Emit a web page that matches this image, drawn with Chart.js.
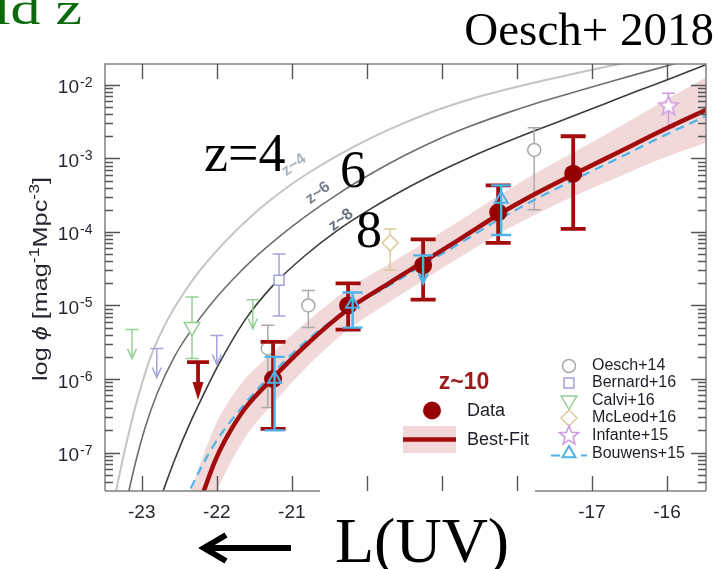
<!DOCTYPE html>
<html>
<head>
<meta charset="utf-8">
<script src="https://cdn.jsdelivr.net/npm/chart.js@4.4.1/dist/chart.umd.min.js"></script>
<style>
  html, body { margin: 0; padding: 0; background: #fff; }
  canvas { display: block; }
</style>
</head>
<body>
<canvas id="lf" width="721" height="569"></canvas>
<script>
// UV luminosity function at z~10 against the z~4, 6, 8 Schechter curves

// axis ranges (absolute UV magnitude, number density)
const X_MIN = -23.49, X_MAX = -15.48;
const Y_MIN = 3.27e-8, Y_MAX = 1.92e-2;
const xTicks = [-23, -22, -21, -20, -19, -18, -17, -16];
const xTickLabels = ['-23', '-22', '-21', '', '', '', '-17', '-16'];
const yTickExps = [-2, -3, -4, -5, -6, -7];

// lower redshift reference curves
const z4Mag = [-23.347, -23.213, -23.053, -22.867, -22.653, -22.427, -22.227, -21.893, -21.493, -21.133, -20.827, -20.387, -19.933, -19.493, -19.053, -18.6, -18.16, -17.493, -16.827, -16.16];
const z4Phi = [2.88e-8, 1.24e-7, 5.53e-7, 2.18e-6, 6.47e-6, 1.55e-5, 2.97e-5, 7.33e-5, 1.81e-4, 3.58e-4, 5.89e-4, 1.10e-3, 1.92e-3, 3.06e-3, 4.59e-3, 6.47e-3, 8.56e-3, 1.24e-2, 1.75e-2, 2.39e-2];
const z6Mag = [-23.2, -23.093, -22.96, -22.787, -22.56, -22.333, -22.093, -21.8, -21.493, -21.187, -20.827, -20.387, -19.933, -19.493, -19.053, -18.6, -18.16, -17.72, -17.267, -16.827, -16.387, -15.933, -15.56];
const z6Phi = [2.24e-8, 6.67e-8, 2.11e-7, 6.67e-7, 2.05e-6, 4.74e-6, 1.0e-5, 2.18e-5, 4.46e-5, 8.3e-5, 1.60e-4, 3.27e-4, 6.27e-4, 1.10e-3, 1.81e-3, 2.79e-3, 4.06e-3, 5.71e-3, 7.8e-3, 1.05e-2, 1.41e-2, 1.89e-2, 2.39e-2];
const z8Mag = [-22.733, -22.56, -22.36, -22.16, -21.987, -21.627, -21.253, -20.827, -20.387, -19.933, -19.493, -19.053, -18.6, -18.16, -17.72, -17.267, -16.827, -16.387, -15.933, -15.56, -15.293];
const z8Phi = [2.7e-8, 8.03e-8, 2.47e-7, 6.67e-7, 1.5e-6, 6.27e-6, 1.86e-5, 4.74e-5, 1.06e-4, 2.11e-4, 3.81e-4, 6.47e-4, 1.06e-3, 1.64e-3, 2.47e-3, 3.70e-3, 5.53e-3, 8.3e-3, 1.24e-2, 1.75e-2, 2.24e-2];

// z~10 best fit and its uncertainty band
const fitMag = [-22.40, -22.227, -22.16, -22.027, -21.893, -21.627, -21.253, -20.827, -20.253, -19.693, -19.267, -18.76, -18.253, -17.76, -17.24, -16.627, -16.093, -15.467, -15.227];
const fitPhi = [5.4e-9, 2.05e-8, 3.27e-8, 7.55e-8, 1.45e-7, 3.94e-7, 1.03e-6, 2.79e-6, 8.8e-6, 2.05e-5, 3.81e-5, 8.0e-5, 1.70e-4, 3.27e-4, 6.1e-4, 1.24e-3, 2.32e-3, 4.6e-3, 5.9e-3];
const fitUpper = [1.9e-8, 6.8e-8, 1.03e-7, 2.28e-7, 4.09e-7, 9.9e-7, 2.31e-6, 5.7e-6, 1.68e-5, 3.72e-5, 6.8e-5, 1.43e-4, 3.09e-4, 6.2e-4, 1.21e-3, 2.72e-3, 5.6e-3, 1.29e-2, 1.78e-2];
const fitLower = [1.5e-9, 6.2e-9, 1.03e-8, 2.5e-8, 5.15e-8, 1.57e-7, 4.61e-7, 1.37e-6, 4.63e-6, 1.12e-5, 2.14e-5, 4.52e-5, 9.3e-5, 1.71e-4, 3.05e-4, 5.7e-4, 9.7e-4, 1.63e-3, 1.95e-3];

// Bouwens+15 dashed function
const bwMag = [-22.427, -22.347, -22.027, -21.627, -21.267, -20.827, -20.253, -19.693, -19.267, -18.76, -18.253, -17.76, -17.24, -16.627, -16.093, -15.467, -15.227];
const bwPhi = [2.11e-8, 3.27e-8, 1.32e-7, 4.59e-7, 1.17e-6, 3.16e-6, 8.8e-6, 1.89e-5, 3.47e-5, 7.0e-5, 1.45e-4, 2.75e-4, 5.1e-4, 1.03e-3, 1.92e-3, 3.81e-3, 4.89e-3];

// z~10 data
const z10Mag = [-21.25, -20.25, -19.25, -18.25, -17.25];
const z10Phi = [1.0e-6, 1.0e-5, 3.5e-5, 1.85e-4, 6.2e-4];
const z10Hi = [3.2e-6, 2.0e-5, 7.9e-5, 4.3e-4, 2.0e-3];
const z10Lo = [2.1e-7, 4.7e-6, 1.2e-5, 7.1e-5, 1.1e-4];
const z10LimMag = [-22.25];
const z10LimPhi = [1.7e-6];

// literature points
const oeschMag = [-21.32, -20.78, -17.77];
const oeschPhi = [2.6e-6, 1.0e-5, 1.3e-3];
const oeschHi = [5.4e-6, 1.6e-5, 2.6e-3];
const oeschLo = [4.1e-7, 5.0e-6, 2.0e-4];
const bernardMag = [-21.17];
const bernardPhi = [2.2e-5];
const bernardHi = [5.0e-5];
const bernardLo = [7.2e-6];
const bernardLimMag = [-22.8, -22.0];
const bernardLimPhi = [2.6e-6, 3.9e-6];
const calviMag = [-22.33];
const calviPhi = [5.1e-6];
const calviHi = [1.3e-5];
const calviLo = [1.9e-6];
const calviLimMag = [-23.13, -21.52];
const calviLimPhi = [4.7e-6, 1.2e-5];
const mcleodMag = [-19.69];
const mcleodPhi = [7.1e-5];
const mcleodHi = [1.1e-4];
const mcleodLo = [3.0e-5];
const infanteMag = [-15.98];
const infantePhi = [5.25e-3];
const infanteHi = [7.7e-3];
const infanteLo = [2.6e-3];
const bouwensMag = [-21.23, -20.19, -18.21];
const bouwensPhi = [1.0e-6, 1.05e-5, 2.8e-4];
const bouwensHi = [2.0e-6, 1.5e-5, 4.3e-4];
const bouwensLo = [2.0e-7, 5.0e-6, 9.1e-5];
const bouwensLimMag = [-19.25];
const bouwensLimPhi = [4.8e-5];

const SANS = '"Liberation Sans", Arial, Helvetica, sans-serif';
const SERIF = '"Liberation Serif", "Times New Roman", serif';

const C_OESCH = '#a9a9a9';
const C_BERNARD = '#a3a3d9';
const C_CALVI = '#96d096';
const C_MCLEOD = '#dccb9c';
const C_INFANTE = '#cf9ae0';
const C_BOUWENS = '#4db3e8';
const C_RED = '#a30c0c';
const C_DOT = '#960000';

function pts(xs, ys) {
  return xs.map((x, i) => ({ x, y: ys[i] }));
}

function makeStar(color) {
  const c = document.createElement('canvas');
  c.width = 24; c.height = 24;
  const g = c.getContext('2d');
  g.strokeStyle = color; g.lineWidth = 1.6; g.fillStyle = '#fff';
  g.beginPath();
  for (let k = 0; k < 10; k++) {
    const r = k % 2 ? 4.3 : 10;
    const a = -Math.PI / 2 + k * Math.PI / 5;
    const px = 12 + r * Math.cos(a), py = 12.8 + r * Math.sin(a);
    if (k) g.lineTo(px, py); else g.moveTo(px, py);
  }
  g.closePath(); g.fill(); g.stroke();
  return c;
}
const starImg = makeStar(C_INFANTE);

function curve(label, xs, ys, color, width, order, extra) {
  return Object.assign({
    label, data: pts(xs, ys), borderColor: color, borderWidth: width,
    pointRadius: 0, fill: false, cubicInterpolationMode: 'monotone', clip: 0, order
  }, extra || {});
}

function markers(label, xs, ys, style, color, order, extra) {
  return Object.assign({
    label, data: pts(xs, ys), showLine: false, pointStyle: style,
    pointBorderColor: color, pointBackgroundColor: '#fff', pointBorderWidth: 1.5,
    pointRadius: 7, borderColor: color, order
  }, extra || {});
}

function limits(label, xs, ys, color, order, bar) {
  return { label, data: pts(xs, ys), showLine: false, pointRadius: 0, borderColor: color, order, bar, limit: true };
}

const thinBar = c => ({ color: c, width: 1.5, cap: 13, arrow: 29, head: 'open' });

const datasets = [
  curve('band', fitMag, fitUpper, 'rgba(0,0,0,0)', 0, 30, { fill: '+1', backgroundColor: 'rgba(205,105,105,0.25)' }),
  curve('bandLow', fitMag, fitLower, 'rgba(0,0,0,0)', 0, 30),
  curve('z~4', z4Mag, z4Phi, '#c4c4c4', 2, 25),
  curve('z~6', z6Mag, z6Phi, '#6e6e6e', 1.6, 25),
  curve('z~8', z8Mag, z8Phi, '#3c3c3c', 1.6, 25),
  markers('Oesch+14', oeschMag, oeschPhi, 'circle', C_OESCH, 20, { pointRadius: 6.5, errHigh: oeschHi, errLow: oeschLo, bar: thinBar(C_OESCH) }),
  markers('Bernard+16', bernardMag, bernardPhi, 'rect', C_BERNARD, 20, { pointRadius: 7, errHigh: bernardHi, errLow: bernardLo, bar: thinBar(C_BERNARD) }),
  limits('Bernard+16 lim', bernardLimMag, bernardLimPhi, C_BERNARD, 20, thinBar(C_BERNARD)),
  markers('Calvi+16', calviMag, calviPhi, 'triangle', C_CALVI, 20, { pointRadius: 9, pointRotation: 180, errHigh: calviHi, errLow: calviLo, bar: thinBar(C_CALVI) }),
  limits('Calvi+16 lim', calviLimMag, calviLimPhi, C_CALVI, 20, thinBar(C_CALVI)),
  markers('McLeod+16', mcleodMag, mcleodPhi, 'rectRot', C_MCLEOD, 20, { pointRadius: 8, errHigh: mcleodHi, errLow: mcleodLo, bar: thinBar(C_MCLEOD) }),
  markers('Infante+15', infanteMag, infantePhi, starImg, C_INFANTE, 20, { errHigh: infanteHi, errLow: infanteLo, bar: thinBar(C_INFANTE) }),
  curve('Bouwens+15 fit', bwMag, bwPhi, C_BOUWENS, 2.2, 15, { borderDash: [9, 6] }),
  curve('Best-Fit', fitMag, fitPhi, C_RED, 4.5, 12),
  markers('Data', z10Mag, z10Phi, 'circle', C_DOT, 8, {
    pointRadius: 9, pointBackgroundColor: C_DOT, pointBorderWidth: 0,
    errHigh: z10Hi, errLow: z10Lo, bar: { color: C_RED, width: 3.8, cap: 25 }
  }),
  limits('Data lim', z10LimMag, z10LimPhi, C_RED, 8, { color: C_RED, width: 3.8, cap: 22, arrow: 38, head: 'solid' }),
  markers('Bouwens+15', bouwensMag, bouwensPhi, 'triangle', C_BOUWENS, 4, {
    pointRadius: 7.5, pointBorderWidth: 2, pointBackgroundColor: 'rgba(0,0,0,0)',
    errHigh: bouwensHi, errLow: bouwensLo, bar: { color: C_BOUWENS, width: 2.4, cap: 20 }
  }),
  limits('Bouwens+15 lim', bouwensLimMag, bouwensLimPhi, C_BOUWENS, 4, { color: C_BOUWENS, width: 2.4, cap: 20, arrow: 28, head: 'open' })
];

// vertical error bars and upper-limit arrows, drawn under each dataset's markers
const errorBars = {
  id: 'errorBars',
  beforeDatasetDraw(chart, args) {
    const ds = chart.data.datasets[args.index];
    const bar = ds.bar;
    if (!bar) return;
    const { ctx } = chart;
    const xs = chart.scales.x, ys = chart.scales.y;
    ctx.save();
    ctx.strokeStyle = bar.color;
    ctx.fillStyle = bar.color;
    ctx.lineWidth = bar.width;
    ctx.lineCap = 'butt';
    const half = bar.cap / 2;
    ds.data.forEach((p, i) => {
      const px = xs.getPixelForValue(p.x);
      if (ds.limit) {
        const top = ys.getPixelForValue(p.y);
        const tip = top + bar.arrow;
        ctx.beginPath();
        ctx.moveTo(px - half, top); ctx.lineTo(px + half, top);
        ctx.moveTo(px, top);
        ctx.lineTo(px, bar.head === 'solid' ? tip - 14 : tip - 1);
        ctx.stroke();
        ctx.beginPath();
        if (bar.head === 'solid') {
          ctx.moveTo(px - 5.5, tip - 18); ctx.lineTo(px + 5.5, tip - 18); ctx.lineTo(px, tip);
          ctx.closePath(); ctx.fill();
        } else {
          ctx.moveTo(px - 4.5, tip - 10); ctx.lineTo(px, tip); ctx.lineTo(px + 4.5, tip - 10);
          ctx.stroke();
        }
      } else {
        const hi = ys.getPixelForValue(ds.errHigh[i]);
        const lo = ys.getPixelForValue(ds.errLow[i]);
        ctx.beginPath();
        ctx.moveTo(px, hi); ctx.lineTo(px, lo);
        ctx.moveTo(px - half, hi); ctx.lineTo(px + half, hi);
        ctx.moveTo(px - half, lo); ctx.lineTo(px + half, lo);
        ctx.stroke();
      }
    });
    ctx.restore();
  }
};

function richWidth(ctx, parts) {
  let w = 0;
  for (const p of parts) { ctx.font = p.font; w += ctx.measureText(p.t).width; }
  return w;
}
function drawRich(ctx, parts, x, y) {
  let cx = x;
  for (const p of parts) {
    ctx.font = p.font;
    ctx.fillText(p.t, cx, y + (p.dy || 0));
    cx += ctx.measureText(p.t).width;
  }
}

function legendMarker(ctx, style, color, x, y, radius, rotation, fill, width) {
  ctx.save();
  ctx.strokeStyle = color;
  ctx.fillStyle = fill || '#fff';
  ctx.lineWidth = width || 1.5;
  Chart.helpers.drawPoint(ctx, { pointStyle: style, radius, rotation: rotation || 0, borderWidth: width || 1.5 }, x, y);
  ctx.restore();
}

// frame, inward ticks, labels, legends and annotations
const decor = {
  id: 'decor',
  afterDraw(chart) {
    const { ctx, chartArea: a } = chart;
    const xs = chart.scales.x, ys = chart.scales.y;
    ctx.save();

    // frame, with the stretch of bottom axis under the legend left open
    ctx.strokeStyle = '#808080';
    ctx.lineWidth = 1.5;
    ctx.beginPath();
    ctx.moveTo(a.left, a.bottom); ctx.lineTo(a.left, a.top);
    ctx.lineTo(a.right, a.top); ctx.lineTo(a.right, a.bottom);
    ctx.moveTo(a.left, a.bottom); ctx.lineTo(320, a.bottom);
    ctx.moveTo(535, a.bottom); ctx.lineTo(a.right, a.bottom);
    ctx.stroke();

    ctx.strokeStyle = '#555';
    ctx.lineWidth = 1.4;
    ctx.beginPath();
    xTicks.forEach(t => {
      const px = Math.round(xs.getPixelForValue(t)) + 0.5;
      ctx.moveTo(px, a.top); ctx.lineTo(px, a.top + 15);
      ctx.moveTo(px, a.bottom); ctx.lineTo(px, a.bottom - 15);
    });
    for (let e = -8; e <= -2; e++) {
      for (let m = 1; m <= 9; m++) {
        const v = m * Math.pow(10, e);
        if (v < Y_MIN || v > Y_MAX) continue;
        const py = Math.round(ys.getPixelForValue(v)) + 0.5;
        const len = m === 1 ? 15 : 8;
        ctx.moveTo(a.left, py); ctx.lineTo(a.left + len, py);
        ctx.moveTo(a.right, py); ctx.lineTo(a.right - len, py);
      }
    }
    ctx.stroke();

    // tick labels
    ctx.fillStyle = '#262633';
    ctx.textBaseline = 'alphabetic';
    yTickExps.forEach(e => {
      const py = ys.getPixelForValue(Math.pow(10, e));
      ctx.font = '19px ' + SANS;
      ctx.textAlign = 'right';
      ctx.fillText('10', 79, py + 8.5);
      ctx.font = '14px ' + SANS;
      ctx.textAlign = 'left';
      ctx.fillText(String(e), 80, py + 2);
    });
    ctx.font = '19px ' + SANS;
    ctx.textAlign = 'center';
    xTicks.forEach((t, i) => {
      if (xTickLabels[i]) ctx.fillText(xTickLabels[i], xs.getPixelForValue(t), 518);
    });

    // y axis title
    const title = [
      { t: 'log ', font: '20px ' + SANS },
      { t: 'ϕ', font: 'italic 20px ' + SANS },
      { t: ' [mag', font: '20px ' + SANS },
      { t: '-1', font: '14px ' + SANS, dy: -8 },
      { t: 'Mpc', font: '20px ' + SANS },
      { t: '-3', font: '14px ' + SANS, dy: -8 },
      { t: ']', font: '20px ' + SANS }
    ];
    ctx.save();
    ctx.translate(47, 279);
    ctx.rotate(-Math.PI / 2);
    const tw = richWidth(ctx, title);
    ctx.scale(204 / tw, 1);
    ctx.textAlign = 'left';
    drawRich(ctx, title, -tw / 2, 0);
    ctx.restore();

    // labels along the reference curves
    ctx.font = 'bold 16px ' + SANS;
    ctx.textAlign = 'center';
    ctx.textBaseline = 'middle';
    [['z~4', 294, 165, '#aab3c2'], ['z~6', 318, 193, '#78808f'], ['z~8', 341, 220, '#69717f']].forEach(([t, x, y, c]) => {
      ctx.save();
      ctx.translate(x, y);
      ctx.rotate(-0.66);
      ctx.fillStyle = c;
      ctx.fillText(t, 0, 0);
      ctx.restore();
    });

    // z~10 legend
    ctx.textAlign = 'center';
    ctx.textBaseline = 'alphabetic';
    ctx.fillStyle = '#9b1b1b';
    ctx.font = 'bold 23px ' + SANS;
    ctx.fillText('z~10', 464, 389);
    ctx.fillStyle = C_DOT;
    ctx.beginPath(); ctx.arc(432, 410.5, 9, 0, Math.PI * 2); ctx.fill();
    ctx.fillStyle = '#f2d8d8';
    ctx.fillRect(403, 426, 53, 27);
    ctx.strokeStyle = C_RED; ctx.lineWidth = 4.5;
    ctx.beginPath(); ctx.moveTo(403, 439.5); ctx.lineTo(456, 439.5); ctx.stroke();
    ctx.fillStyle = '#1e1e2a';
    ctx.font = '18px ' + SANS;
    ctx.textAlign = 'left';
    ctx.textBaseline = 'middle';
    ctx.fillText('Data', 467, 411);
    ctx.fillText('Best-Fit', 467, 440);

    // literature legend
    const rows = [
      ['Oesch+14', 366], ['Bernard+16', 383], ['Calvi+16', 400.5],
      ['McLeod+16', 418], ['Infante+15', 435.5], ['Bouwens+15', 453.5]
    ];
    legendMarker(ctx, 'circle', C_OESCH, 569, 366, 6.5);
    legendMarker(ctx, 'rect', C_BERNARD, 569, 383, 7);
    legendMarker(ctx, 'triangle', C_CALVI, 569, 400.5, 9, 180);
    legendMarker(ctx, 'rectRot', C_MCLEOD, 569, 418, 8);
    ctx.drawImage(starImg, 557, 423);
    ctx.save();
    ctx.strokeStyle = C_BOUWENS; ctx.lineWidth = 2.2; ctx.setLineDash([9, 6]);
    ctx.beginPath(); ctx.moveTo(551, 455.5); ctx.lineTo(587, 455.5); ctx.stroke();
    ctx.restore();
    legendMarker(ctx, 'triangle', C_BOUWENS, 569, 453.5, 7.5, 0, '#fff', 2);
    ctx.fillStyle = '#1e1e2a';
    ctx.font = '16px ' + SANS;
    ctx.textAlign = 'left';
    ctx.textBaseline = 'middle';
    rows.forEach(([t, y]) => ctx.fillText(t, 592, y));

    // annotations
    ctx.textBaseline = 'alphabetic';
    ctx.fillStyle = '#0b6b0b';
    ctx.save();
    ctx.translate(-6, 24);
    ctx.scale(1.3, 1);
    ctx.font = '46px ' + SERIF;
    ctx.textAlign = 'left';
    ctx.fillText('ld z', 0, 0);
    ctx.restore();
    ctx.fillStyle = '#000';
    ctx.font = '47px ' + SERIF;
    ctx.textAlign = 'right';
    ctx.fillText('Oesch+ 2018', 714, 45);
    ctx.textAlign = 'left';
    ctx.font = '54px ' + SERIF;
    ctx.fillText('z=4', 204, 171);
    ctx.font = '52px ' + SERIF;
    ctx.fillText('6', 340, 187);
    ctx.fillText('8', 356, 247);
    ctx.font = '64px ' + SERIF;
    ctx.fillText('L(UV)', 335, 562);

    ctx.strokeStyle = '#000';
    ctx.lineWidth = 6;
    ctx.lineCap = 'butt';
    ctx.beginPath(); ctx.moveTo(291, 548); ctx.lineTo(205, 548); ctx.stroke();
    ctx.lineJoin = 'miter';
    ctx.beginPath(); ctx.moveTo(226, 535); ctx.lineTo(204, 548); ctx.lineTo(226, 561); ctx.stroke();

    ctx.restore();
  }
};

new Chart(document.getElementById('lf'), {
  type: 'line',
  data: { datasets },
  options: {
    responsive: false,
    animation: false,
    events: [],
    layout: { padding: { left: 105, top: 64, right: 15, bottom: 78 } },
    scales: {
      x: { type: 'linear', min: X_MIN, max: X_MAX, display: false },
      y: { type: 'logarithmic', min: Y_MIN, max: Y_MAX, display: false }
    },
    plugins: {
      legend: { display: false },
      tooltip: { enabled: false },
      filler: { propagate: false }
    }
  },
  plugins: [errorBars, decor]
});
</script>
</body>
</html>
